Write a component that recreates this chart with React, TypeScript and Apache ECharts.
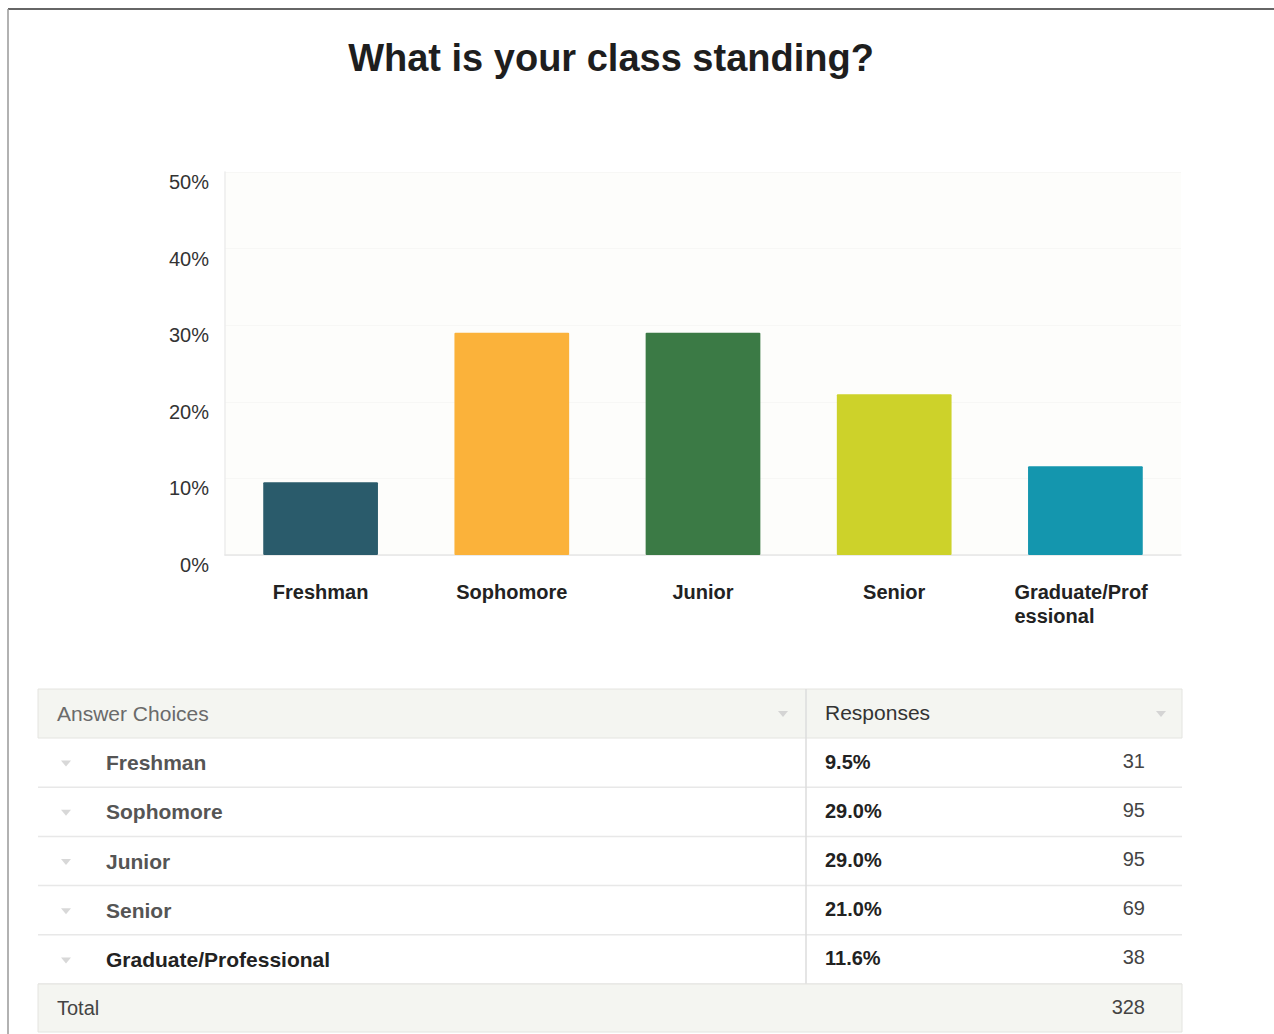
import React, { useEffect, useRef } from "react";
import * as echarts from "echarts";

const title = "What is your class standing?";
const categories = ["Freshman", "Sophomore", "Junior", "Senior", "Graduate/Professional"];
const percents = [9.5, 29.0, 29.0, 21.0, 11.6];
const counts = [31, 95, 95, 69, 38];
const total = 328;
const barColors = ["#2a5b6b", "#fbb23a", "#3b7a45", "#cdd22a", "#1496ae"];
const yTicks = [0, 10, 20, 30, 40, 50];
const headerLabels = ["Answer Choices", "Responses"];
const totalLabel = "Total";

const FONT = "'Liberation Sans', Arial, Helvetica, sans-serif";

export default function App() {
  const ref = useRef<HTMLDivElement>(null);

  useEffect(() => {
    document.body.style.margin = "0";
    document.body.style.overflow = "hidden";
    if (!ref.current) return;
    const chart = echarts.init(ref.current, undefined, { renderer: "svg" });

    const tx0 = 38;
    const tx1 = 1182;
    const divX = 806;
    const headTop = 689;
    const rowH = 49.2;
    const firstRowTop = 738;
    const g: any[] = [];

    g.push({ type: "line", shape: { x1: 8, y1: 9, x2: 1274, y2: 9 }, style: { stroke: "#666", lineWidth: 2 } });
    g.push({ type: "line", shape: { x1: 8, y1: 9, x2: 8, y2: 1034 }, style: { stroke: "#999", lineWidth: 1.5 } });

    g.push({ type: "text", x: 611, y: 58, style: { text: title, font: `bold 38px ${FONT}`, fill: "#1e1e1e", align: "center", verticalAlign: "middle" } });

    g.push({ type: "rect", shape: { x: tx0, y: headTop, width: tx1 - tx0, height: firstRowTop - headTop }, style: { fill: "#f4f5f1", stroke: "#e4e4e0", lineWidth: 1 } });
    g.push({ type: "text", x: 57, y: headTop + 24.5, style: { text: headerLabels[0], font: `21px ${FONT}`, fill: "#6a6a6a", verticalAlign: "middle" } });
    g.push({ type: "text", x: 825, y: headTop + 23, style: { text: headerLabels[1], font: `21px ${FONT}`, fill: "#333", verticalAlign: "middle" } });
    const tri = (cx: number, cy: number, c: string) => ({
      type: "polygon",
      shape: { points: [[cx - 5, cy - 3], [cx + 5, cy - 3], [cx, cy + 3]] },
      style: { fill: c },
    });
    g.push(tri(783, headTop + 25, "#d4d4d4"));
    g.push(tri(1161, headTop + 25, "#d4d4d4"));

    categories.forEach((cat, i) => {
      const top = firstRowTop + i * rowH;
      const cy = top + rowH / 2;
      g.push({ type: "line", shape: { x1: tx0, y1: top + rowH, x2: tx1, y2: top + rowH }, style: { stroke: "#e8e8e8", lineWidth: 1.5 } });
      g.push(tri(66, cy + 1, "#d8d8d8"));
      g.push({ type: "text", x: 106, y: cy, style: { text: cat, font: `bold 21px ${FONT}`, fill: i === 4 ? "#222" : "#555", verticalAlign: "middle" } });
      g.push({ type: "text", x: 825, y: cy - 1, style: { text: percents[i].toFixed(1) + "%", font: `bold 20px ${FONT}`, fill: "#222", verticalAlign: "middle" } });
      g.push({ type: "text", x: 1145, y: cy - 2, style: { text: String(counts[i]), font: `20px ${FONT}`, fill: "#444", align: "right", verticalAlign: "middle" } });
    });
    const totTop = firstRowTop + categories.length * rowH;
    g.push({ type: "line", shape: { x1: divX, y1: headTop, x2: divX, y2: totTop }, style: { stroke: "#dcdcdc", lineWidth: 1.5 } });
    g.push({ type: "rect", shape: { x: tx0, y: totTop, width: tx1 - tx0, height: 48 }, style: { fill: "#f4f5f1", stroke: "#e4e4e0", lineWidth: 1 } });
    g.push({ type: "text", x: 57, y: totTop + 24, style: { text: totalLabel, font: `20px ${FONT}`, fill: "#444", verticalAlign: "middle" } });
    g.push({ type: "text", x: 1145, y: totTop + 23, style: { text: String(total), font: `20px ${FONT}`, fill: "#444", align: "right", verticalAlign: "middle" } });

    chart.setOption({
      animation: false,
      backgroundColor: "#ffffff",
      grid: {
        left: 225,
        right: 93,
        top: 172,
        bottom: 1034 - 555,
        show: true,
        backgroundColor: "#fdfdfb",
        borderWidth: 0,
        containLabel: false,
      },
      xAxis: {
        type: "category",
        data: categories,
        axisLine: { show: true, lineStyle: { color: "#e6e6e6", width: 1.5 } },
        axisTick: { show: false },
        axisLabel: {
          interval: 0,
          margin: 25,
          color: "#222",
          fontFamily: FONT,
          fontWeight: "bold",
          fontSize: 20,
          lineHeight: 24,
          formatter: (v: string) => (v === "Graduate/Professional" ? "{g|Graduate/Prof}\n{g|essional}" : v),
          rich: {
            g: { width: 142, align: "left", fontFamily: FONT, fontWeight: "bold", fontSize: 20, color: "#222", lineHeight: 24 },
          },
        },
      },
      yAxis: {
        type: "value",
        min: yTicks[0],
        max: yTicks[yTicks.length - 1],
        interval: 10,
        axisLine: { show: true, lineStyle: { color: "#ececec", width: 1.5 } },
        axisTick: { show: false },
        splitLine: { show: true, lineStyle: { color: "#f7f7f5", width: 1 } },
        axisLabel: {
          margin: 16,
          color: "#333",
          fontFamily: FONT,
          fontSize: 20,
          verticalAlign: "top",
          formatter: "{value}%",
        },
      },
      series: [
        {
          type: "bar",
          data: percents.map((v, i) => ({ value: v, itemStyle: { color: barColors[i] } })),
          barWidth: "60%",
          itemStyle: { borderRadius: 1 },
        },
      ],
      graphic: g,
    });

    return () => chart.dispose();
  }, []);

  return <div ref={ref} style={{ width: 1274, height: 1034 }} />;
}
